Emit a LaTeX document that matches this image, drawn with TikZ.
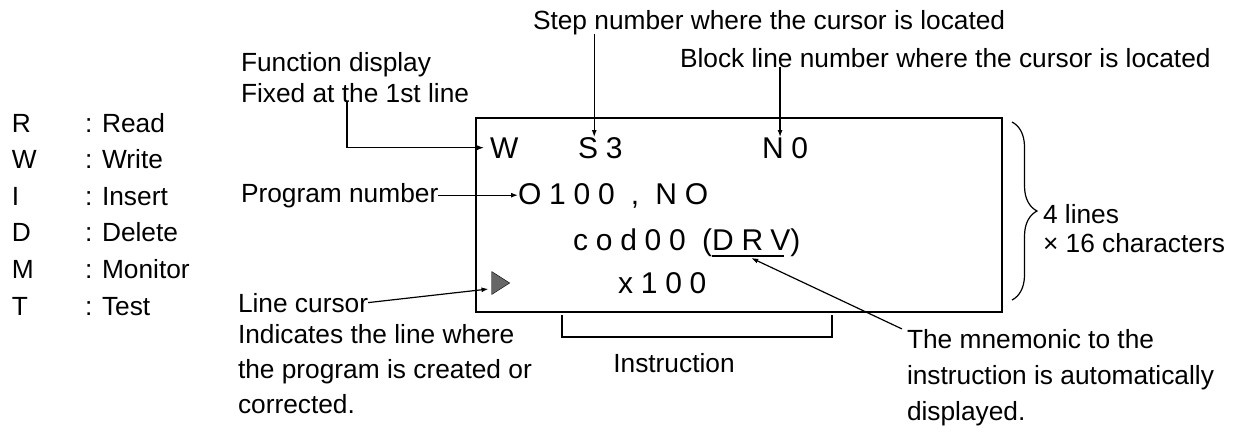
\documentclass[tikz,border=0pt]{standalone}
\usepackage{fontspec}
\setmainfont{Liberation Sans}
\newfontfamily\lcdfont[LetterSpace=26]{Liberation Sans}
\usetikzlibrary{arrows.meta,decorations.pathreplacing,shapes.geometric}

\begin{document}
\begin{tikzpicture}[
  x=1pt,y=-1pt,
  font=\fontsize{26.3}{31}\selectfont,
  >=Latex,
  lbl/.style={inner sep=0pt, outer sep=0pt, anchor=base west},
  lcd/.style={inner sep=0pt, outer sep=0pt, anchor=base west,
              font=\lcdfont\fontsize{30}{36}\selectfont},
  screen/.style={draw=black, line width=1.6pt, inner sep=0pt, outer sep=0pt,
                 minimum width=526pt, minimum height=194pt, anchor=north west},
  cursormark/.style={isosceles triangle, isosceles triangle stretches,
                     minimum width=23pt, minimum height=18pt, inner sep=0pt,
                     fill=black!60, draw=black, line width=0.4pt},
  line/.style={line width=1.2pt, draw=black},
  arr/.style={-{Latex[length=7pt,width=5pt]}, line width=1.2pt, draw=black}
]
\useasboundingbox (0,0) rectangle (1239,432);

% mode letters
\foreach \k/\m [count=\i from 0] in {R/Read,W/Write,I/Insert,D/Delete,M/Monitor,T/Test}{
  \node[lbl] (key\k) at (12,{132+36.6*\i}) {\k};
  \node[lbl] (mode\k) at (85,{132+36.6*\i}) {: \m};
}

% display
\node[screen] (lcd) at (476,118) {};
\node[lcd] (wfunc) at (490,158) {W};
\node[lcd] (s3) at (578,158) {S3};
\node[lcd] (n0) at (762,158) {N0};
\node[lcd] (o100) at (518,204) {O100 , NO};
\node[lcd] (cod) at (573,250) {cod00 (};
\node[lcd] (drv) at (cod.base east) {DRV};
\node[lcd] (rpar) at (drv.base east) {)};
\node[lcd] (x100) at (618,293) {x100};
\node[cursormark] (tri) at (498,283) {};
\draw[line] ([yshift=-6pt]drv.south west) -- ([yshift=-6pt,xshift=-6pt]drv.south east);

% labels
\node[lbl] (stepnum) at (533,29) {Step number where the cursor is located};
\node[lbl] (blockline) at (680,67) {Block line number where the cursor is located};
\node[lbl] (funcdisp) at (241,71) {Function display};
\node[lbl] (fixed) at (241,102) {Fixed at the 1st line};
\node[lbl] (prognum) at (241,202) {Program number};
\node[lbl] (linecur) at (238,312) {Line cursor};
\node[lbl] (indic1) at (238,343) {Indicates the line where};
\node[lbl] (indic2) at (238,378) {the program is created or};
\node[lbl] (indic3) at (238,413) {corrected.};
\node[lbl, anchor=base] (instr) at (674,372) {Instruction};
\node[lbl] (mnemo1) at (907,348) {The mnemonic to the};
\node[lbl] (mnemo2) at (907,384) {instruction is automatically};
\node[lbl] (mnemo3) at (907,420) {displayed.};
\node[lbl] (lines) at (1043,223) {4 lines};
\node[lbl] (chars) at (1043,252) {× 16 characters};

% connectors
\draw[arr] ([xshift=-6pt]s3.north |- stepnum.south) -- ([xshift=-6pt]s3.north);
\draw[arr] ([xshift=-5pt]n0.north |- blockline.south) -- ([xshift=-5pt]n0.north);
\draw[arr] ([xshift=-8pt]fixed.south) |- ([xshift=-6pt]wfunc.west);
\draw[arr] (prognum.east) -- (prognum.east -| o100.west);
\draw[arr] (linecur.east) -- ([xshift=-3pt,yshift=-6pt]tri.west);
\draw[arr] ([xshift=-5pt]mnemo1.north west) -- ([yshift=-8pt]drv.south);
\draw[line] ([shift={(86,3)}]lcd.south west) -- ++(0,22) -| ([shift={(356,3)}]lcd.south west);
\draw[line, decorate, decoration={brace, amplitude=25pt}]
  ([shift={(10,4)}]lcd.north east) -- ([shift={(10,-12)}]lcd.south east);

\end{tikzpicture}
\end{document}
